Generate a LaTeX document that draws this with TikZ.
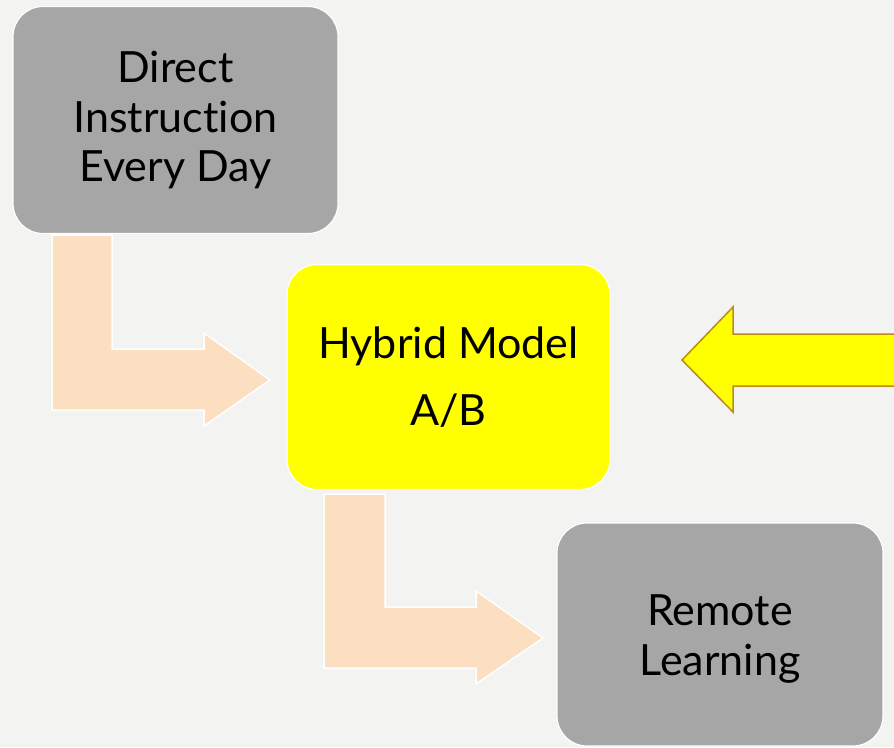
\documentclass[tikz,border=0pt]{standalone}
\usepackage{fontspec}
\setmainfont[Ligatures={NoCommon}]{Lato}
\usetikzlibrary{calc}
\definecolor{slidebg}{HTML}{F3F3F1}
\definecolor{boxgray}{HTML}{A6A6A6}
\definecolor{peach}{HTML}{FCDFC1}
\definecolor{hybridyellow}{HTML}{FFFF00}
\definecolor{goldedge}{HTML}{BE8C14}
\tikzset{
	stagebox/.style={draw=white, line width=1.2pt, rounded corners=30pt, align=center, inner sep=0pt, text=black, font=\fontsize{43}{50}\selectfont},
	bentarrow/.style={fill=peach, draw=white, line width=1.5pt},
}

\begin{document}
\begin{tikzpicture}[x=1pt, y=-1pt]
	%%%%% START %%%%%
	
	\fill[slidebg] (0, 0) rectangle (894, 747);
	\useasboundingbox (0, 0) rectangle (894, 747);
	\clip (0, 0) rectangle (894, 747);
	
	\node[stagebox, fill=boxgray, minimum width=325pt, minimum height=227pt] (direct) at (175.5, 120) {Direct\\Instruction\\Every Day};
	\node[stagebox, fill=hybridyellow, minimum width=323pt, minimum height=225pt, font=\fontsize{43}{67}\selectfont] (hybrid) at (448.5, 377) {Hybrid Model\\A/B};
	\node[stagebox, fill=boxgray, minimum width=326pt, minimum height=223pt, text height=89pt] (remote) at (720, 634.5) {Remote\\Learning};
	
	% bent arrow from the top box
	\draw[bentarrow] (52, 235) -- (112, 235) -- (112, 349) -- (204, 349) -- (204, 333) -- (270, 380) -- (204, 426) -- (204, 410) -- (52, 410) -- cycle;
	
	% bent arrow from the middle box
	\draw[bentarrow] (324, 494) -- (385, 494) -- (385, 607) -- (476, 607) -- (476, 591) -- (543, 638) -- (476, 684) -- (476, 668) -- (324, 668) -- cycle;
	
	% arrow coming in from the right
	\draw[fill=hybridyellow, draw=goldedge, line width=1.5pt] (900, 334) -- (733, 334) -- (733, 307) -- (682, 360) -- (733, 412) -- (733, 386) -- (900, 386);
	
	%%%%% END %%%%%
\end{tikzpicture}
\end{document}
